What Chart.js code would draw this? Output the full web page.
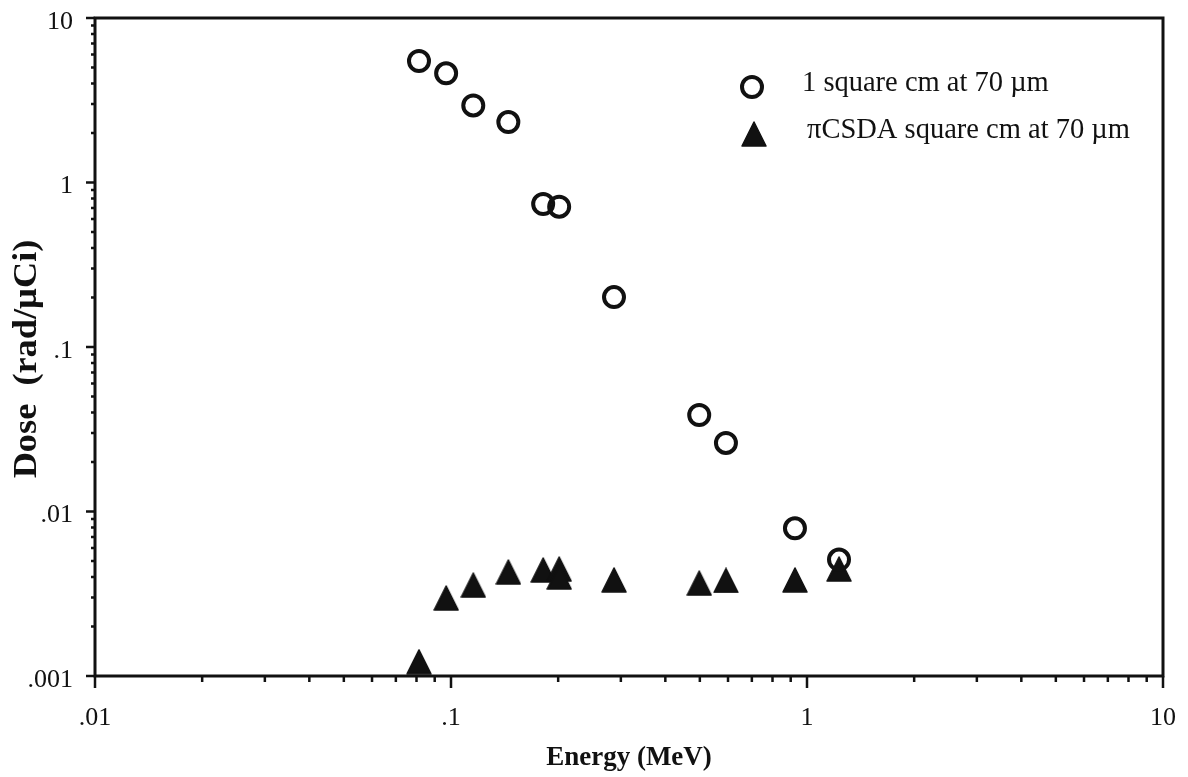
<!DOCTYPE html>
<html>
<head>
<meta charset="utf-8">
<title>Dose vs Energy</title>
<script src="https://cdn.jsdelivr.net/npm/chart.js@4.4.1/dist/chart.umd.min.js"></script>
<style>
  html, body { margin: 0; padding: 0; background: #fff; }
  #wrap { width: 1188px; height: 777px; position: relative; }
</style>
</head>
<body>
<div id="wrap"><canvas id="doseChart"></canvas></div>
<script>
// electron energy (MeV) against dose (rad/µCi)
const squareEnergy = [0.0813, 0.0969, 0.1155, 0.1449, 0.1815, 0.2013, 0.287, 0.498, 0.592, 0.925, 1.23];
const squareDose   = [5.48, 4.61, 2.94, 2.33, 0.740, 0.713, 0.201, 0.0386, 0.0261, 0.0079, 0.0051];

const csdaEnergy = [0.0813, 0.0969, 0.1155, 0.1449, 0.1815, 0.2013, 0.2013, 0.287, 0.498, 0.592, 0.925, 1.23];
const csdaDose   = [0.00122, 0.00298, 0.00357, 0.00429, 0.00441, 0.00447, 0.00400, 0.00384, 0.00367, 0.00381, 0.00384, 0.00447];

const seriesLabels = ['1 square cm at 70 µm', 'πCSDA square cm at 70 µm'];
const xTitle = 'Energy (MeV)';
const yTitle = 'Dose  (rad/µCi)';

const xTickValues = [0.01, 0.1, 1, 10];
const xTickLabels = ['.01', '.1', '1', '10'];
const yTickValues = [0.001, 0.01, 0.1, 1, 10];
const yTickLabels = ['.001', '.01', '.1', '1', '10'];

const ink = '#111';
const serif = '"Liberation Serif", "Times New Roman", serif';

// solid triangle a bit taller than the built-in one
function triangleMark(w, h) {
  const c = document.createElement('canvas');
  c.width = w;
  c.height = h;
  const g = c.getContext('2d');
  g.fillStyle = ink;
  g.strokeStyle = ink;
  g.lineWidth = 1.5;
  g.lineJoin = 'round';
  g.beginPath();
  g.moveTo(w / 2, 1);
  g.lineTo(w - 1, h - 1);
  g.lineTo(1, h - 1);
  g.closePath();
  g.fill();
  g.stroke();
  return c;
}
const triangle = triangleMark(26, 26);

// 1..9 per decade, decade starts are the major ones
function logTicks(values) {
  const ticks = [];
  for (let i = 0; i < values.length - 1; i++) {
    for (let m = 1; m < 10; m++) {
      ticks.push({ value: +(values[i] * m).toPrecision(3), major: m === 1 });
    }
  }
  ticks.push({ value: values[values.length - 1], major: true });
  return ticks;
}

function labelFor(values, labels) {
  return v => {
    const i = values.indexOf(v);
    return i < 0 ? '' : labels[i];
  };
}

// box around the plot plus outward tick marks on bottom and left
const frame = {
  id: 'frame',
  beforeDatasetsDraw(chart) {
    const { ctx, chartArea: a, scales: { x, y } } = chart;
    ctx.save();
    ctx.strokeStyle = ink;
    ctx.lineWidth = 2.5;
    ctx.beginPath();
    x.ticks.forEach(t => {
      const px = x.getPixelForValue(t.value);
      ctx.moveTo(px, a.bottom);
      ctx.lineTo(px, a.bottom + (t.major ? 12 : 6));
    });
    y.ticks.forEach(t => {
      const py = y.getPixelForValue(t.value);
      ctx.moveTo(a.left, py);
      ctx.lineTo(a.left - (t.major ? 9 : 4), py);
    });
    ctx.stroke();
    ctx.lineWidth = 3;
    ctx.strokeRect(a.left, a.top, a.right - a.left, a.bottom - a.top);
    ctx.restore();
  }
};

// vertical axis title, set a little wide and low as on the original plot
const yTitleText = {
  id: 'yTitleText',
  afterDraw(chart) {
    const { ctx, chartArea: a } = chart;
    ctx.save();
    ctx.translate(27, (a.top + a.bottom) / 2 + 12);
    ctx.rotate(-Math.PI / 2);
    ctx.scale(1.1, 1);
    ctx.font = 'bold 33px ' + serif;
    ctx.fillStyle = ink;
    ctx.textAlign = 'center';
    ctx.textBaseline = 'middle';
    ctx.fillText(yTitle, 0, 0);
    ctx.restore();
  }
};

// legend sits inside the plot, upper right
const legendBox = {
  id: 'legendBox',
  afterDatasetsDraw(chart) {
    const { ctx, chartArea: a } = chart;
    const mx = a.left + 657;
    const rows = [a.top + 69, a.top + 116];
    ctx.save();
    ctx.font = '28.5px ' + serif;
    ctx.textBaseline = 'middle';
    chart.data.datasets.forEach((ds, i) => {
      const cy = rows[i];
      ctx.fillStyle = ds.backgroundColor;
      ctx.strokeStyle = ds.borderColor;
      ctx.lineWidth = ds.pointBorderWidth;
      Chart.helpers.drawPoint(ctx, {
        pointStyle: ds.pointStyle,
        radius: ds.pointRadius,
        borderWidth: ds.pointBorderWidth,
        rotation: 0
      }, mx + (i ? 2 : 0), cy);
      ctx.fillStyle = ink;
      ctx.fillText(ds.label, mx + 50 + (i ? 5 : 0), cy - 3);
    });
    ctx.restore();
  }
};

// keep the plot box where it is; no extra room for edge labels
function noEdgePad(s) {
  s.paddingTop = 0;
  s.paddingBottom = 0;
  s.paddingLeft = 0;
  s.paddingRight = 0;
}

new Chart(document.getElementById('doseChart'), {
  type: 'scatter',
  data: {
    datasets: [
      {
        label: seriesLabels[0],
        data: squareEnergy.map((e, i) => ({ x: e, y: squareDose[i] })),
        pointStyle: 'circle',
        pointRadius: 10,
        pointBorderWidth: 4,
        borderColor: ink,
        backgroundColor: 'rgba(255,255,255,0)',
        clip: false
      },
      {
        label: seriesLabels[1],
        data: csdaEnergy.map((e, i) => ({ x: e, y: csdaDose[i] })),
        pointStyle: triangle,
        pointRadius: 12,
        pointBorderWidth: 0,
        borderColor: ink,
        backgroundColor: ink,
        clip: false
      }
    ]
  },
  options: {
    responsive: true,
    maintainAspectRatio: false,
    animation: false,
    layout: { padding: { top: 18, right: 25, left: 0, bottom: 0 } },
    plugins: { legend: { display: false }, tooltip: { enabled: false } },
    scales: {
      x: {
        type: 'logarithmic',
        min: 0.01,
        max: 10,
        afterBuildTicks: s => { s.ticks = logTicks(xTickValues); },
        afterFit: s => { s.height = 101; noEdgePad(s); },
        grid: { display: false, drawTicks: false },
        border: { display: false },
        ticks: {
          autoSkip: false,
          maxRotation: 0,
          padding: 27,
          color: ink,
          font: { family: serif, size: 26 },
          callback: labelFor(xTickValues, xTickLabels)
        },
        title: {
          display: true,
          text: xTitle,
          color: ink,
          font: { family: serif, size: 27, weight: 'bold' },
          padding: { top: 0, bottom: 3 }
        }
      },
      y: {
        type: 'logarithmic',
        min: 0.001,
        max: 10,
        afterBuildTicks: s => { s.ticks = logTicks(yTickValues); },
        afterFit: s => { s.width = 95; noEdgePad(s); },
        grid: { display: false, drawTicks: false },
        border: { display: false },
        ticks: {
          autoSkip: false,
          padding: 22,
          labelOffset: 4,
          color: ink,
          font: { family: serif, size: 26 },
          callback: labelFor(yTickValues, yTickLabels)
        },
        title: { display: false }
      }
    }
  },
  plugins: [frame, yTitleText, legendBox]
});
</script>
</body>
</html>
